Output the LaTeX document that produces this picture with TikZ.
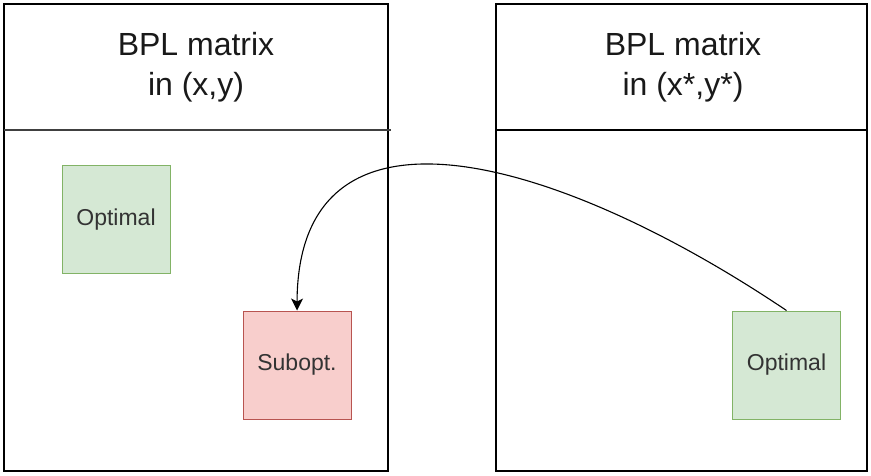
\documentclass[tikz,border=0pt]{standalone}
\usepackage{fontspec}
\setmainfont{Liberation Sans}
\usetikzlibrary{arrows.meta}
\definecolor{optfill}{HTML}{D5E8D4}
\definecolor{optline}{HTML}{82B366}
\definecolor{subfill}{HTML}{F8CECC}
\definecolor{subline}{HTML}{B85450}
\definecolor{textgray}{HTML}{333333}
\tikzset{
    panel/.style={draw=black,line width=1.2pt,fill=white},
    header/.style={align=center,text=black!90,font=\fontsize{32}{40}\selectfont},
    cell/.style={draw,line width=1pt,rectangle,minimum width=108pt,minimum height=108pt,anchor=center,text=textgray,font=\fontsize{23}{28}\selectfont},
    optcell/.style={cell,fill=optfill,draw=optline},
    subcell/.style={cell,fill=subfill,draw=subline}
}
\begin{document}
\begin{tikzpicture}[x=1pt,y=-1pt]
        \useasboundingbox (0,0) rectangle (871,475);
        %% Panels
        \draw[panel] (4,4) rectangle (388,471);
        \draw[line width=1.2pt,black!75] (4,130) -- (391,130);
        \draw[panel] (496,4) rectangle (867,471);
        \draw[line width=1.2pt] (496,130) -- (867,130);
        %% Headers
        \node[header] (HL) at (196,67) {BPL matrix\\in (x,y)};
        \node[header] (HR) at (683,67) {BPL matrix\\in (x*,y*)};
        %% Cells
        \node[optcell] (OL) at (116,219.5) {Optimal};
        \node[subcell] (S) at (297,365) {Subopt.};
        \node[optcell] (OR) at (786.5,365) {Optimal};
        %% Move
        \draw[line width=1.1pt,-{Stealth[length=12pt,width=12pt,inset=3pt]}] (OR.north) .. controls (560,158) and (298,80) .. (S.north);
    \end{tikzpicture}
\end{document}
